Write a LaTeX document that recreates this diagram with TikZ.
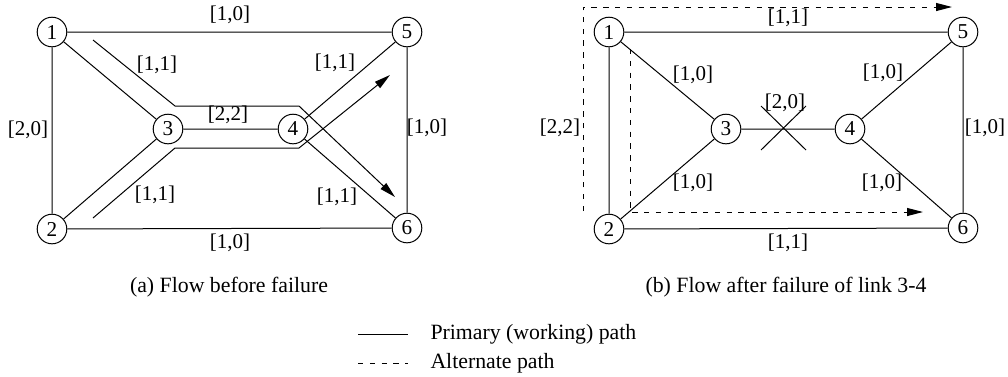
\documentclass[tikz,border=0pt]{standalone}
\usepackage{fontspec}
\setmainfont{Liberation Serif}
\usetikzlibrary{arrows.meta}

\begin{document}
\begin{tikzpicture}[x=0.5pt, y=-0.5pt, line width=0.5pt,
		vtx/.style={draw, circle, minimum size=14.8pt, inner sep=0pt, font=\fontsize{10.6}{12}\selectfont},
		lbl/.style={inner sep=1pt, font=\fontsize{10.5}{12}\selectfont},
		captext/.style={inner sep=1pt, font=\fontsize{10.9}{13}\selectfont},
		flow/.style={-{Triangle[length=8pt, width=4pt]}},
		altdash/.style={dash pattern=on 2.7pt off 3.2pt},
		alt/.style={altdash, -{Triangle[length=8pt, width=4pt]}}]
		\useasboundingbox (0,0) rectangle (1008,376);

		% (a) before failure
		\node[vtx] (a1) at (52,32) {1};
		\node[vtx] (a2) at (52,229) {2};
		\node[vtx] (a3) at (168,129) {3};
		\node[vtx] (a4) at (293,129) {4};
		\node[vtx] (a5) at (407,32) {5};
		\node[vtx] (a6) at (407,228) {6};
		\draw (a1) -- (a5) (a1) -- (a2) (a1) -- (a3) (a2) -- (a3) (a2) -- (a6)
			(a3) -- (a4) (a4) -- (a5) (a4) -- (a6) (a5) -- (a6);

		\node[lbl] (a15) at (230,15) {[1,0]};
		\node[lbl] (a12) at (28,130) {[2,0]};
		\node[lbl] (a13) at (157,65) {[1,1]};
		\node[lbl] (a34) at (228,115) {[2,2]};
		\node[lbl] (a45) at (335,63) {[1,1]};
		\node[lbl] (a56) at (427,128) {[1,0]};
		\node[lbl] (a23) at (155,195) {[1,1]};
		\node[lbl] (a46) at (337,197) {[1,1]};
		\node[lbl] (a26) at (230,243) {[1,0]};

		% the two working flows through 3-4
		\coordinate (p1) at (93,40);
		\coordinate (p2) at (175,106);
		\coordinate (p3) at (299,106);
		\coordinate (p4) at (395,197);
		\coordinate (q1) at (93,218);
		\coordinate (q2) at (175,148);
		\coordinate (q3) at (299,148);
		\coordinate (q4) at (390,75);
		\draw[flow] (p1) -- (p2) -- (p3) -- (p4);
		\draw[flow] (q1) -- (q2) -- (q3) -- (q4);

		\node[captext] (capa) at (229,287) {(a) Flow before failure};

		% (b) after failure
		\node[vtx] (b1) at (609,32) {1};
		\node[vtx] (b2) at (609,229) {2};
		\node[vtx] (b3) at (726,129) {3};
		\node[vtx] (b4) at (850,129) {4};
		\node[vtx] (b5) at (963,32) {5};
		\node[vtx] (b6) at (963,228) {6};
		\draw (b1) -- (b5) (b1) -- (b2) (b1) -- (b3) (b2) -- (b3) (b2) -- (b6)
			(b3) -- (b4) (b4) -- (b5) (b4) -- (b6) (b5) -- (b6);

		\node[lbl] (b15) at (788,18) {[1,1]};
		\node[lbl] (b12) at (560,128) {[2,2]};
		\node[lbl] (b13) at (693,75) {[1,0]};
		\node[lbl] (b34) at (785,103) {[2,0]};
		\node[lbl] (b45) at (883,73) {[1,0]};
		\node[lbl] (b56) at (985,128) {[1,0]};
		\node[lbl] (b23) at (693,183) {[1,0]};
		\node[lbl] (b46) at (882,183) {[1,0]};
		\node[lbl] (b26) at (788,243) {[1,1]};

		% failed link
		\coordinate (x1) at (761,106);
		\coordinate (x2) at (806,150);
		\coordinate (x3) at (761,150);
		\coordinate (x4) at (806,106);
		\draw (x1) -- (x2) (x3) -- (x4);

		% rerouted flows
		\coordinate (r1) at (583,211);
		\coordinate (r2) at (583,7);
		\coordinate (r3) at (952,7);
		\coordinate (s1) at (630,49);
		\coordinate (s2) at (630,212);
		\coordinate (s3) at (923,212);
		\draw[alt] (r1) -- (r2) -- (r3);
		\draw[alt] (s1) -- (s2) -- (s3);

		\node[captext] (capb) at (786,287) {(b) Flow after failure of link 3-4};

		% legend
		\coordinate (l1) at (358,334);
		\coordinate (l2) at (408,334);
		\coordinate (l3) at (358,363);
		\coordinate (l4) at (408,363);
		\draw (l1) -- (l2);
		\draw[altdash] (l3) -- (l4);
		\node[captext, anchor=west] (leg1) at (428,334) {Primary (working) path};
		\node[captext, anchor=west] (leg2) at (428,363) {Alternate path};
	\end{tikzpicture}
\end{document}
